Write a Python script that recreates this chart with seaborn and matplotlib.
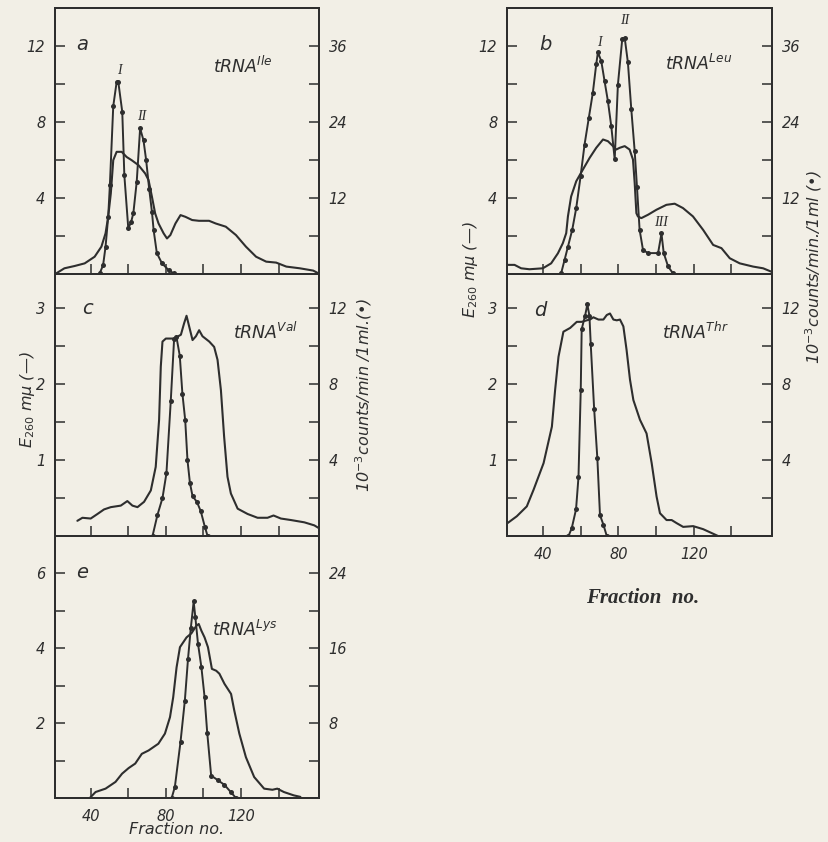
import numpy as np
import pandas as pd
import matplotlib
matplotlib.use("Agg")
import matplotlib.pyplot as plt
import seaborn as sns

# ---------------- data ----------------
# Fraction numbers and E260 (solid line, left axis), counts (dotted line, right axis)
a_frac_e = [21.6, 26.0, 31.4, 36.8, 42.1, 45.7, 47.9, 49.3, 50.7, 52.0, 53.8, 56.5, 59.1, 61.8, 65.4, 69.0, 70.8,
            72.6, 74.3, 76.1, 78.8, 80.6, 82.4, 85.1, 87.8, 90.4, 94.0, 97.6, 103.0, 106.5, 111.9, 117.3, 122.6,
            128.0, 133.4, 138.7, 144.1, 151.3, 158.4, 161.1]
a_e260 = [0.03, 0.30, 0.42, 0.56, 0.91, 1.44, 2.14, 3.01, 4.24, 5.99, 6.43, 6.43, 6.16, 5.99, 5.73, 5.29, 4.94,
          4.06, 3.19, 2.66, 2.14, 1.87, 2.05, 2.66, 3.10, 3.01, 2.84, 2.80, 2.80, 2.66, 2.49, 2.05, 1.44,
          0.91, 0.65, 0.60, 0.39, 0.30, 0.18, 0.04]
a_frac_c = [44.8, 46.6, 47.9, 49.3, 50.2, 52.0, 53.8, 54.7, 56.8, 57.9, 60.0, 61.5, 62.7, 64.5, 66.3, 68.1, 69.5,
            71.1, 72.6, 73.5, 75.2, 77.9, 81.5, 84.2]
a_cpm = [0.1, 1.4, 4.3, 9.0, 14.0, 26.5, 30.3, 30.3, 25.6, 15.6, 7.2, 8.2, 9.6, 14.6, 23.0, 21.1, 18.0,
         13.5, 9.8, 6.9, 3.3, 1.7, 0.6, 0.1]

b_frac_e = [20.5, 25.0, 28.5, 32.9, 40.0, 44.4, 48.0, 50.6, 52.4, 53.3, 55.0, 57.7, 61.2, 64.8, 68.3, 71.9, 74.5,
            77.2, 78.9, 80.7, 83.4, 86.0, 87.8, 88.7, 89.6, 90.4, 92.2, 95.8, 100.2, 105.5, 109.9, 114.3, 119.6,
            125.0, 130.3, 134.7, 139.1, 144.4, 151.5, 156.8, 161.2]
b_e260 = [0.48, 0.48, 0.30, 0.25, 0.30, 0.56, 1.09, 1.62, 2.15, 3.03, 4.08, 4.88, 5.49, 6.11, 6.64, 7.08, 6.99,
          6.73, 6.55, 6.64, 6.73, 6.55, 6.02, 4.79, 3.20, 3.03, 2.94, 3.12, 3.38, 3.64, 3.70, 3.47, 3.03,
          2.32, 1.53, 1.36, 0.83, 0.56, 0.39, 0.30, 0.12]
b_frac_c = [49.7, 51.5, 53.3, 55.6, 57.7, 60.0, 62.1, 64.4, 66.5, 68.3, 69.2, 71.0, 72.7, 74.5, 76.3, 78.1, 79.8,
            82.1, 83.4, 85.1, 86.9, 88.7, 89.9, 91.3, 93.1, 95.8, 101.1, 102.9, 104.1, 106.4, 109.0]
b_cpm = [0.1, 2.2, 4.3, 7.0, 10.4, 15.4, 20.4, 24.7, 28.6, 33.1, 35.0, 33.6, 30.5, 27.3, 23.3, 18.1, 29.9,
         37.1, 37.3, 33.4, 26.0, 19.4, 13.8, 7.0, 3.8, 3.3, 3.3, 6.4, 3.3, 1.2, 0.1]

c_frac_e = [32.9, 35.6, 40.0, 43.6, 47.1, 50.7, 56.0, 59.5, 62.2, 64.9, 68.4, 72.0, 74.6, 76.4, 77.3, 78.2, 80.0,
            84.4, 88.0, 89.7, 91.0, 92.4, 94.2, 96.0, 97.7, 99.5, 103.1, 105.7, 107.5, 109.3, 111.0, 112.8,
            114.6, 118.2, 123.5, 128.8, 134.1, 137.3, 141.2, 146.6, 153.7, 159.0, 161.7]
c_e260 = [0.20, 0.24, 0.23, 0.29, 0.35, 0.38, 0.40, 0.46, 0.40, 0.38, 0.45, 0.60, 0.91, 1.53, 2.23, 2.56, 2.60,
          2.60, 2.65, 2.80, 2.90, 2.76, 2.58, 2.63, 2.71, 2.63, 2.56, 2.49, 2.32, 1.92, 1.31, 0.78,
          0.56, 0.36, 0.29, 0.24, 0.24, 0.27, 0.23, 0.21, 0.18, 0.14, 0.10]
c_frac_c = [72.9, 75.5, 78.2, 80.3, 82.6, 84.4, 85.6, 87.4, 88.8, 90.3, 91.5, 92.8, 94.2, 96.5, 98.6, 100.7, 102.2]
c_cpm = [0.0, 1.1, 2.0, 3.3, 7.1, 10.4, 10.5, 9.5, 7.5, 6.1, 4.0, 2.8, 2.1, 1.8, 1.3, 0.5, 0.0]

d_frac_e = [21.3, 26.2, 31.5, 35.1, 40.4, 44.8, 46.5, 48.3, 50.9, 54.5, 58.0, 60.6, 63.3, 65.0, 66.8, 69.5, 72.1,
            73.9, 75.6, 77.4, 79.2, 80.9, 82.7, 84.4, 86.2, 88.0, 91.5, 95.0, 97.7, 100.3, 102.1, 105.6, 108.3,
            110.9, 114.4, 119.7, 125.0, 129.4, 132.9]
d_e260 = [0.17, 0.26, 0.39, 0.61, 0.96, 1.44, 1.92, 2.36, 2.69, 2.74, 2.82, 2.82, 2.84, 2.85, 2.88, 2.85, 2.85,
          2.91, 2.93, 2.85, 2.84, 2.85, 2.76, 2.45, 2.06, 1.79, 1.53, 1.35, 0.96, 0.52, 0.30, 0.21, 0.21,
          0.17, 0.12, 0.13, 0.09, 0.04, 0.0]
d_frac_c = [53.6, 55.3, 57.6, 58.9, 60.1, 60.6, 62.4, 63.6, 64.7, 65.4, 67.2, 68.9, 70.3, 72.1, 73.9]
d_cpm = [0.0, 0.4, 1.4, 3.1, 7.7, 10.9, 11.6, 12.2, 11.6, 10.1, 6.7, 4.1, 1.1, 0.6, 0.0]

e_frac_e = [39.5, 42.6, 47.9, 53.2, 56.7, 60.2, 63.7, 67.2, 70.8, 76.0, 79.5, 82.2, 83.9, 85.7, 87.5, 91.0, 93.6,
            96.2, 97.5, 98.9, 100.6, 102.4, 104.5, 106.8, 108.5, 111.2, 114.7, 116.4, 119.1, 122.6, 127.0,
            132.3, 136.7, 139.3, 142.8, 148.1, 151.6]
e_e260 = [0.0, 0.16, 0.25, 0.43, 0.65, 0.80, 0.92, 1.18, 1.27, 1.45, 1.72, 2.16, 2.69, 3.49, 4.03, 4.29, 4.40,
          4.60, 4.65, 4.47, 4.29, 4.03, 3.45, 3.40, 3.32, 3.05, 2.78, 2.34, 1.72, 1.09, 0.56,
          0.25, 0.22, 0.25, 0.16, 0.07, 0.03]
e_frac_c = [83.1, 84.8, 87.8, 90.1, 91.8, 93.3, 94.8, 95.7, 97.1, 98.9, 100.6, 102.0, 104.1, 107.7, 111.2,
            114.7, 117.3]
e_cpm = [0.0, 1.2, 6.0, 10.4, 14.9, 18.2, 21.0, 19.3, 16.5, 14.0, 10.8, 7.0, 2.4, 1.9, 1.4, 0.6, 0.0]

x_ticks = [40, 60, 80, 100, 120, 140]
x_labels = ["40", "", "80", "", "120", ""]

# ---------------- style ----------------
sns.set_theme(style="ticks")
plt.rcParams["font.family"] = ["DejaVu Sans"]
plt.rcParams["mathtext.fontset"] = "dejavusans"

W, H = 829, 842
BG = "#f2efe6"
INK = "#2e2e2e"

fig = plt.figure(figsize=(W / 100, H / 100), dpi=100)
fig.patch.set_facecolor(BG)


def rect(x0, y0, x1, y1):
    return [x0 / W, 1 - y1 / H, (x1 - x0) / W, (y1 - y0) / H]


def P(x, y):
    return x / W, 1 - y / H


panels = [
    dict(key="a", r=rect(55, 8, 319, 274), fe=a_frac_e, e=a_e260, fc=a_frac_c, c=a_cpm, ytop=14.0, fac=3,
         lt=[2, 4, 6, 8, 10, 12], ll=["", "4", "", "8", "", "12"],
         rt=[6, 12, 18, 24, 30, 36], rl=["", "12", "", "24", "", "36"], xl=False),
    dict(key="c", r=rect(55, 274, 319, 536), fe=c_frac_e, e=c_e260, fc=c_frac_c, c=c_cpm, ytop=3.45, fac=4,
         lt=[0.5, 1, 1.5, 2, 2.5, 3], ll=["", "1", "", "2", "", "3"],
         rt=[2, 4, 6, 8, 10, 12], rl=["", "4", "", "8", "", "12"], xl=False),
    dict(key="e", r=rect(55, 536, 319, 798), fe=e_frac_e, e=e_e260, fc=e_frac_c, c=e_cpm, ytop=7.0, fac=4,
         lt=[1, 2, 3, 4, 5, 6], ll=["", "2", "", "4", "", "6"],
         rt=[4, 8, 12, 16, 20, 24], rl=["", "8", "", "16", "", "24"], xl=True),
    dict(key="b", r=rect(507, 8, 772, 274), fe=b_frac_e, e=b_e260, fc=b_frac_c, c=b_cpm, ytop=14.0, fac=3,
         lt=[2, 4, 6, 8, 10, 12], ll=["", "4", "", "8", "", "12"],
         rt=[6, 12, 18, 24, 30, 36], rl=["", "12", "", "24", "", "36"], xl=False),
    dict(key="d", r=rect(507, 274, 772, 536), fe=d_frac_e, e=d_e260, fc=d_frac_c, c=d_cpm, ytop=3.45, fac=4,
         lt=[0.5, 1, 1.5, 2, 2.5, 3], ll=["", "1", "", "2", "", "3"],
         rt=[2, 4, 6, 8, 10, 12], rl=["", "4", "", "8", "", "12"], xl=True),
]

for p in panels:
    ax = fig.add_axes(p["r"])
    ax.set_facecolor(BG)
    dfe = pd.DataFrame({"frac": p["fe"], "E260": p["e"]})
    sns.lineplot(data=dfe, x="frac", y="E260", ax=ax, color=INK, linewidth=1.5, errorbar=None)
    ax.set_xlim(21, 161.5)
    ax.set_ylim(0, p["ytop"])
    ax.set_xticks(x_ticks)
    ax.set_xticklabels(x_labels if p["xl"] else [""] * len(x_ticks))
    ax.set_yticks(p["lt"])
    ax.set_yticklabels(p["ll"])
    ax.set_xlabel("")
    ax.set_ylabel("")
    ax.tick_params(axis="both", direction="in", length=7, width=1.1, color=INK, labelcolor=INK,
                   labelsize=10.5, pad=7)
    ax.tick_params(axis="x", bottom=True, top=False, pad=8)
    ax.tick_params(axis="y", left=True, right=False)
    for s in ax.spines.values():
        s.set_color(INK)
        s.set_linewidth(1.4)
    for lab in ax.get_xticklabels() + ax.get_yticklabels():
        lab.set_style("italic")

    ax2 = ax.twinx()
    dfc = pd.DataFrame({"frac": p["fc"], "cpm": p["c"]})
    sns.lineplot(data=dfc, x="frac", y="cpm", ax=ax2, color=INK, linewidth=1.4, marker="o",
                 markersize=3.6, markeredgewidth=0, markerfacecolor=INK, errorbar=None)
    ax2.set_ylim(0, p["ytop"] * p["fac"])
    ax2.set_yticks(p["rt"])
    ax2.set_yticklabels(p["rl"])
    ax2.set_ylabel("")
    ax2.tick_params(axis="y", direction="in", length=7, width=1.1, color=INK, labelcolor=INK,
                    labelsize=10.5, pad=7, right=True, left=False)
    for s in ax2.spines.values():
        s.set_color(INK)
        s.set_linewidth(1.4)
    for lab in ax2.get_yticklabels():
        lab.set_style("italic")

# ---------------- text ----------------
letter_kw = dict(fontsize=14, style="italic", color=INK, ha="center", va="center")
for k, (x, y) in {"a": (82, 45), "b": (545, 45), "c": (87, 308), "d": (540, 310), "e": (82, 573)}.items():
    fig.text(*P(x, y), k, **letter_kw)

trna_kw = dict(fontsize=12.5, color=INK, ha="left", va="center", style="italic")
fig.text(*P(213, 66), r"tRNA$^{Ile}$", **trna_kw)
fig.text(*P(665, 64), r"tRNA$^{Leu}$", **trna_kw)
fig.text(*P(233, 332), r"tRNA$^{Val}$", **trna_kw)
fig.text(*P(662, 332), r"tRNA$^{Thr}$", **trna_kw)
fig.text(*P(212, 630), r"tRNA$^{Lys}$", **trna_kw)

peak_kw = dict(fontsize=10, color=INK, ha="center", va="center", family="Liberation Serif", style="italic")
fig.text(*P(119, 71), "I", **peak_kw)
fig.text(*P(142, 117), "II", **peak_kw)
fig.text(*P(599, 43), "I", **peak_kw)
fig.text(*P(625, 21), "II", **peak_kw)
fig.text(*P(661, 223), "III", **peak_kw)

ylab_kw = dict(fontsize=11.5, color=INK, rotation=90, ha="center", va="center", style="italic")
fig.text(*P(28, 400), r"$E_{260}$ m$\mu$ (—)", **ylab_kw)
fig.text(*P(364, 395), r"10$^{-3}$counts/min /1ml.(•)", **ylab_kw)
fig.text(*P(471, 270), r"$E_{260}$ m$\mu$ (—)", **ylab_kw)
fig.text(*P(814, 267), r"10$^{-3}$counts/min./1ml (•)", **ylab_kw)

fig.text(*P(177, 830), "Fraction no.", fontsize=11.5, style="italic", color=INK, ha="center", va="center")
fig.text(*P(643, 598), "Fraction  no.", fontsize=15, style="italic", weight="bold", family="Liberation Serif",
         color=INK, ha="center", va="center")

fig.savefig("out.png", dpi=100, facecolor=BG)
